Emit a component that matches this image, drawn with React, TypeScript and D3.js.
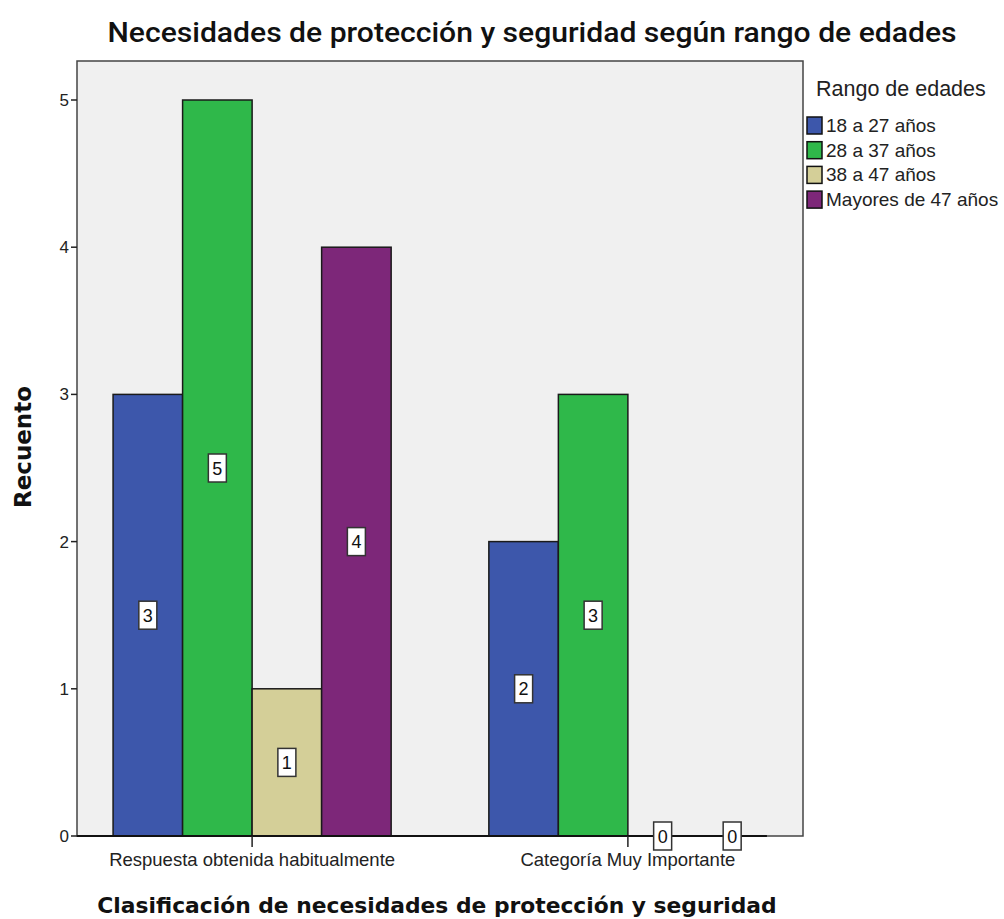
import React from "react";
import * as d3 from "d3";

const categories = ["Respuesta obtenida habitualmente", "Categoría Muy Importante"];
const seriesNames = ["18 a 27 años", "28 a 37 años", "38 a 47 años", "Mayores de 47 años"];
const seriesColors = ["#3d57ab", "#2fb84a", "#d4cf98", "#7d2779"];
// counts per series, one entry per category
const counts18a27 = [3, 2];
const counts28a37 = [5, 3];
const counts38a47 = [1, 0];
const countsMayores47 = [4, 0];
const yTicks = [0, 1, 2, 3, 4, 5];

const seriesValues = [counts18a27, counts28a37, counts38a47, countsMayores47];

const W = 1004;
const H = 919;
const plot = { left: 77, right: 803, top: 61, bottom: 836 };
const sans = "Liberation Sans, Arial, sans-serif";

export default function App() {
  const y = d3.scaleLinear().domain([0, 5]).range([plot.bottom, plot.bottom - 5 * 147.2]);
  const x0 = d3
    .scaleBand<string>()
    .domain(categories)
    .range([plot.left, plot.right])
    .paddingInner(0.26)
    .paddingOuter(0.096);
  const x1 = d3
    .scaleBand<string>()
    .domain(seriesNames)
    .range([0, x0.bandwidth()]);

  const axisEnd = (x0(categories[1]) ?? 0) + x0.bandwidth();

  const bars: { key: string; x: number; w: number; v: number; color: string }[] = [];
  categories.forEach((c, ci) => {
    seriesNames.forEach((s, si) => {
      bars.push({
        key: `${ci}-${si}`,
        x: (x0(c) ?? 0) + (x1(s) ?? 0),
        w: x1.bandwidth(),
        v: seriesValues[si][ci],
        color: seriesColors[si],
      });
    });
  });

  return (
    <svg width={W} height={H} style={{ position: "absolute", left: 0, top: 0, background: "#fff" }}>
      <text
        x={532}
        y={42}
        textAnchor="middle"
        fontFamily="Roboto, Liberation Sans, Arial, sans-serif"
        fontWeight={500}
        fontSize={27}
        textLength={849}
        lengthAdjust="spacingAndGlyphs"
        fill="#111"
      >
        Necesidades de protección y seguridad según rango de edades
      </text>

      <rect
        x={plot.left}
        y={plot.top}
        width={plot.right - plot.left}
        height={plot.bottom - plot.top}
        fill="#f0f0f0"
        stroke="#444"
        strokeWidth={1.5}
      />

      {bars.map((b) =>
        b.v > 0 ? (
          <rect
            key={b.key}
            x={b.x}
            y={y(b.v)}
            width={b.w}
            height={y(0) - y(b.v)}
            fill={b.color}
            stroke="#1a1a1a"
            strokeWidth={1.5}
          />
        ) : null
      )}

      {/* x axis baseline */}
      <line x1={plot.left} x2={axisEnd} y1={y(0)} y2={y(0)} stroke="#111" strokeWidth={2} />

      {/* y axis ticks */}
      {yTicks.map((t) => (
        <g key={t}>
          <line x1={plot.left - 6} x2={plot.left} y1={y(t)} y2={y(t)} stroke="#222" strokeWidth={1.5} />
          <text x={plot.left - 8} y={y(t) + 6} textAnchor="end" fontFamily={sans} fontSize={17} fill="#222">
            {t}
          </text>
        </g>
      ))}

      {/* x axis ticks and labels */}
      {categories.map((c) => {
        const cx = (x0(c) ?? 0) + x0.bandwidth() / 2;
        return (
          <g key={c}>
            <line x1={cx} x2={cx} y1={y(0)} y2={y(0) + 11} stroke="#222" strokeWidth={1.5} />
            <text x={cx} y={y(0) + 30} textAnchor="middle" fontFamily={sans} fontSize={18.5} fill="#222">
              {c}
            </text>
          </g>
        );
      })}

      {/* value labels */}
      {bars.map((b) => {
        const cx = b.x + b.w / 2;
        const cy = y(b.v / 2);
        return (
          <g key={"l" + b.key}>
            <rect x={cx - 9} y={cy - 14} width={18} height={28} fill="#fff" stroke="#333" strokeWidth={1.5} />
            <text x={cx} y={cy + 6.5} textAnchor="middle" fontFamily={sans} fontSize={18} fill="#111">
              {b.v}
            </text>
          </g>
        );
      })}

      {/* axis titles */}
      <text
        x={437}
        y={913}
        textAnchor="middle"
        fontFamily="DejaVu Sans, sans-serif"
        fontWeight={700}
        fontSize={21.8}
        fill="#111"
      >
        Clasificación de necesidades de protección y seguridad
      </text>
      <text
        transform={`translate(31, 447) rotate(-90)`}
        textAnchor="middle"
        fontFamily="DejaVu Sans, sans-serif"
        fontWeight={700}
        fontSize={23}
        fill="#111"
      >
        Recuento
      </text>

      {/* legend */}
      <text x={816} y={96} fontFamily={sans} fontSize={21.5} fill="#222">
        Rango de edades
      </text>
      {seriesNames.map((s, i) => (
        <g key={s} transform={`translate(807, ${117 + i * 24.7})`}>
          <rect x={0} y={0} width={15} height={17} fill={seriesColors[i]} stroke="#111" strokeWidth={1.5} />
          <text x={19} y={15} fontFamily={sans} fontSize={19} fill="#222">
            {s}
          </text>
        </g>
      ))}
    </svg>
  );
}
